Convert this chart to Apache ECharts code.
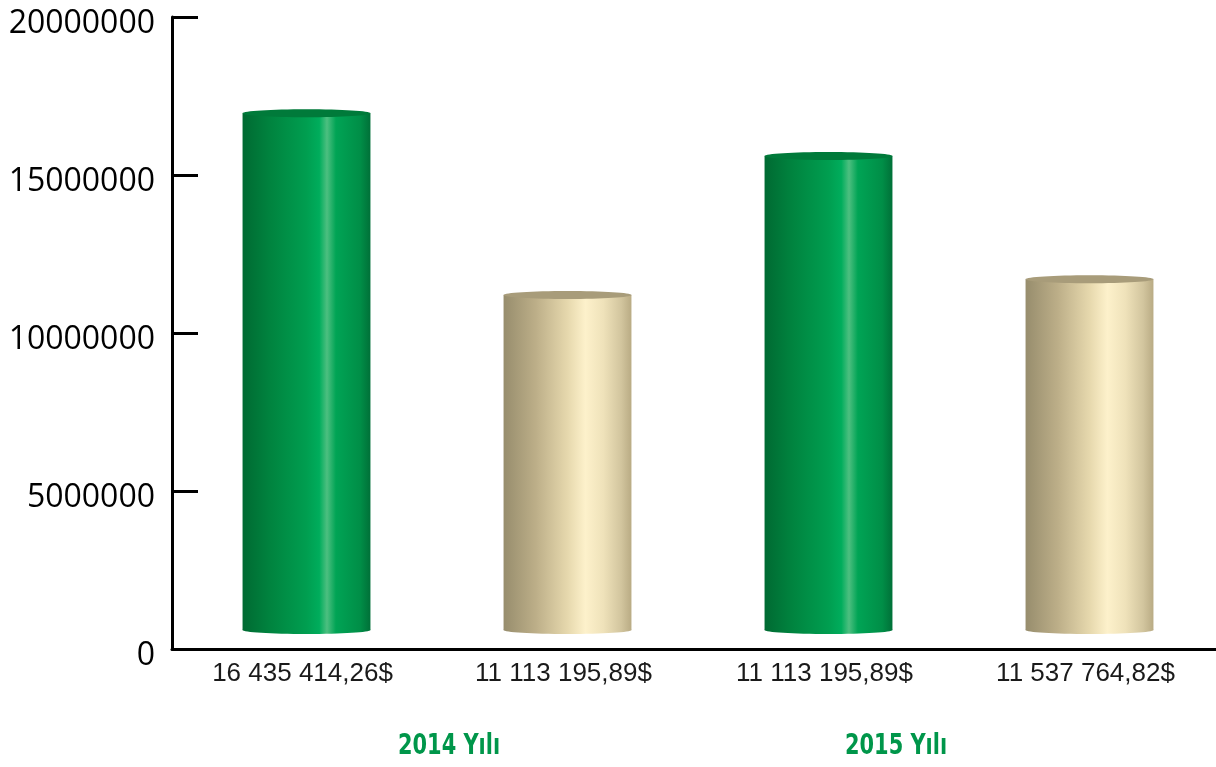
<!DOCTYPE html>
<html>
<head>
<meta charset="utf-8">
<script src="https://cdn.jsdelivr.net/npm/echarts@6/dist/echarts.min.js"></script>
<style>
  html, body { margin: 0; padding: 0; background: #fff; }
  #main { width: 1216px; height: 767px; }
</style>
</head>
<body>
<div id="main"></div>
<script>
// values
const categories = ['16 435 414,26$', '11 113 195,89$', '11 113 195,89$', '11 537 764,82$'];
const values = [16350000, 10600000, 15000000, 11100000];
const barKinds = ['green', 'beige', 'green', 'beige'];
const yearLabels = ['2014 Yılı', '2015 Yılı'];
const yMin = 0;
const yMax = 20000000;
const yStep = 5000000;

const palette = {
  green: {
    body: [
      { offset: 0, color: '#006a32' },
      { offset: 0.22, color: '#00843f' },
      { offset: 0.5, color: '#009e50' },
      { offset: 0.6, color: '#00ad5c' },
      { offset: 0.66, color: '#4dbf80' },
      { offset: 0.73, color: '#00a455' },
      { offset: 0.92, color: '#008e47' },
      { offset: 1, color: '#007038' }
    ],
    top: '#007a3a'
  },
  beige: {
    body: [
      { offset: 0, color: '#978d6d' },
      { offset: 0.25, color: '#bcae88' },
      { offset: 0.5, color: '#e6d8ad' },
      { offset: 0.64, color: '#fdf1cb' },
      { offset: 0.78, color: '#efe2ba' },
      { offset: 0.92, color: '#d2c59e' },
      { offset: 1, color: '#b9ab84' }
    ],
    top: '#a89c7a'
  }
};

const chart = echarts.init(document.getElementById('main'));

function makeSeries(kind) {
  const data = [];
  values.forEach((v, i) => { if (barKinds[i] === kind) data.push([i, v]); });
  const pal = palette[kind];
  return {
    type: 'custom',
    data: data,
    encode: { x: 0, y: 1 },
    renderItem: (params, api) => {
      const i = api.value(0);
      const topPt = api.coord([i, api.value(1)]);
      const basePt = api.coord([i, 0]);
      const w = api.size([1, 0])[0] * 0.49;
      const lift = 19; // bars float a bit above the axis
      const ry = 4;
      const cx = topPt[0] + 4;
      const yTop = topPt[1] - lift;
      const yBot = basePt[1] - lift;
      return {
        type: 'group',
        children: [
          { type: 'rect', shape: { x: cx - w / 2, y: yTop, width: w, height: yBot - yTop }, style: { fill: new echarts.graphic.LinearGradient(0, 0, 1, 0, pal.body) } },
          { type: 'ellipse', shape: { cx: cx, cy: yBot, rx: w / 2, ry: ry }, style: { fill: new echarts.graphic.LinearGradient(0, 0, 1, 0, pal.body) } },
          { type: 'ellipse', shape: { cx: cx, cy: yTop, rx: w / 2, ry: ry }, style: { fill: pal.top } }
        ]
      };
    }
  };
}

const yearFont = 'bold 28px "DejaVu Sans Condensed", "DejaVu Sans", sans-serif';

const option = {
  animation: false,
  backgroundColor: '#fff',
  grid: { left: 172, right: 0, top: 17, bottom: 118 },
  xAxis: {
    type: 'category',
    data: categories,
    axisLine: { lineStyle: { color: '#000', width: 3 } },
    axisTick: { inside: true, length: 15, lineStyle: { color: '#000', width: 2 } },
    axisLabel: {
      color: '#1a1a1a',
      fontFamily: 'Liberation Sans',
      fontSize: 26,
      margin: 12
    },
    splitLine: { show: false }
  },
  yAxis: {
    type: 'value',
    min: yMin,
    max: yMax,
    interval: yStep,
    axisLine: { show: true, lineStyle: { color: '#000', width: 3 } },
    axisTick: { show: true, inside: true, length: 26, lineStyle: { color: '#000', width: 3 } },
    splitLine: { show: false },
    axisLabel: {
      color: '#000',
      fontFamily: 'Open Sans',
      fontSize: 32,
      margin: 17,
      verticalAlign: 'top',
      lineHeight: 14,
      formatter: v => String(v)
    }
  },
  series: [makeSeries('green'), makeSeries('beige')],
  graphic: [
    { type: 'text', left: 398, top: 733, scaleX: 0.83, style: { text: yearLabels[0], fill: '#00964a', font: yearFont } },
    { type: 'text', left: 845, top: 733, scaleX: 0.83, style: { text: yearLabels[1], fill: '#00964a', font: yearFont } }
  ]
};

chart.setOption(option);
</script>
</body>
</html>
